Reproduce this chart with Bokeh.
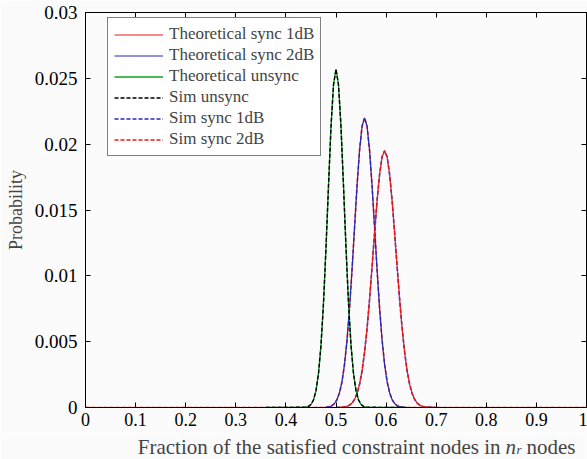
from bokeh.plotting import figure
from bokeh.layouts import column
from bokeh.models import FixedTicker, LinearAxis, Legend, LegendItem, Label, Range1d
from bokeh.embed import file_html
from bokeh.resources import INLINE

# ---- data ----
x_ticks = [0, 0.1, 0.2, 0.3, 0.4, 0.5, 0.6, 0.7, 0.8, 0.9, 1.0]
x_tick_labels = ["0", "0.1", "0.2", "0.3", "0.4", "0.5", "0.6", "0.7", "0.8", "0.9", "1"]
y_ticks = [0, 0.005, 0.01, 0.015, 0.02, 0.025, 0.03]
y_tick_labels = ["0", "0.005", "0.01", "0.015", "0.02", "0.025", "0.03"]

# unsync curve (peak ~0.50)
unsync_x = [0.36, 0.40, 0.440, 0.445, 0.450, 0.455, 0.460, 0.465, 0.470, 0.475, 0.480,
            0.485, 0.490, 0.495, 0.500, 0.505, 0.510, 0.515, 0.520, 0.525, 0.530,
            0.535, 0.540, 0.545, 0.550, 0.555, 0.560, 0.60, 0.64]
unsync_y = [0, 0, 0.00003, 0.00009, 0.00023, 0.00057, 0.00126, 0.00256, 0.0047, 0.0079, 0.0121,
            0.0168, 0.0213, 0.0245, 0.0257, 0.0245, 0.0213, 0.0168, 0.0121, 0.0079, 0.0047,
            0.00256, 0.00126, 0.00057, 0.00023, 0.00009, 0.00003, 0, 0]

# sync 2dB curve (peak ~0.557)
sync2_x = [0.45, 0.477, 0.482, 0.487, 0.492, 0.497, 0.502, 0.507, 0.512, 0.517, 0.522,
           0.527, 0.532, 0.537, 0.542, 0.547, 0.552, 0.557, 0.562, 0.567, 0.572, 0.577,
           0.582, 0.587, 0.592, 0.597, 0.602, 0.607, 0.612, 0.617, 0.622, 0.627, 0.632,
           0.637, 0.70, 0.77]
sync2_y = [0, 0, 0.00003, 0.00006, 0.00014, 0.0003, 0.0006, 0.00112, 0.00197, 0.00327, 0.00512,
           0.00754, 0.01045, 0.01367, 0.01683, 0.01953, 0.02136, 0.0220, 0.02136, 0.01953, 0.01683, 0.01367,
           0.01045, 0.00754, 0.00512, 0.00327, 0.00197, 0.00112, 0.0006, 0.0003, 0.00014, 0.00006, 0.00003,
           0, 0, 0]

# sync 1dB curve (peak ~0.597)
sync1_x = [0.50, 0.517, 0.522, 0.527, 0.532, 0.537, 0.542, 0.547, 0.552, 0.557, 0.562,
           0.567, 0.572, 0.577, 0.582, 0.587, 0.592, 0.597, 0.602, 0.607, 0.612, 0.617,
           0.622, 0.627, 0.632, 0.637, 0.642, 0.647, 0.652, 0.657, 0.662, 0.667, 0.672,
           0.677, 0.70]
sync1_y = [0, 0.00004, 0.00009, 0.00018, 0.00034, 0.00061, 0.00106, 0.00176, 0.00278, 0.00419, 0.0060,
           0.00821, 0.01069, 0.01327, 0.01571, 0.01771, 0.01904, 0.0195, 0.01904, 0.01771, 0.01571, 0.01327,
           0.01069, 0.00821, 0.0060, 0.00419, 0.00278, 0.00176, 0.00106, 0.00061, 0.00034, 0.00018, 0.00009,
           0.00004, 0]

# simulated 2dB series extends over the full axis
sim2_x = [0.0] + sync2_x + [1.0]
sim2_y = [0] + sync2_y + [0]

FONT = "Liberation Serif"
BG = "#fbfbfb"

p = figure(width=587, height=433, output_backend="svg", toolbar_location=None, title=None,
           x_range=Range1d(0, 1), y_range=Range1d(0, 0.03),
           min_border_left=85, min_border_right=1, min_border_top=12, min_border_bottom=26,
           background_fill_color=BG, border_fill_color=BG)
p.grid.visible = False
p.outline_line_color = "black"
p.outline_line_width = 1

for ax in (p.xaxis[0], p.yaxis[0]):
    ax.major_tick_in = 5
    ax.major_tick_out = 0
    ax.minor_tick_in = 0
    ax.minor_tick_out = 0
    ax.major_label_text_font = FONT
    ax.major_label_text_font_size = "19px"
    ax.major_label_text_color = "black"
    ax.axis_line_color = "black"
    ax.major_tick_line_color = "black"

p.xaxis.ticker = FixedTicker(ticks=x_ticks)
p.xaxis.major_label_overrides = {t: l for t, l in zip(x_ticks, x_tick_labels)}
p.xaxis.major_label_standoff = 5
p.xaxis.major_label_text_font_size = "18px"
p.yaxis.ticker = FixedTicker(ticks=y_ticks)
p.yaxis.major_label_overrides = {t: l for t, l in zip(y_ticks, y_tick_labels)}
p.yaxis.major_label_standoff = 8
p.yaxis.axis_label = "Probability"
p.yaxis.axis_label_text_font = FONT
p.yaxis.axis_label_text_font_size = "18px"
p.yaxis.axis_label_text_font_style = "normal"
p.yaxis.axis_label_standoff = 6

top = LinearAxis(ticker=FixedTicker(ticks=x_ticks), major_tick_in=5, major_tick_out=0,
                 minor_tick_in=0, minor_tick_out=0, major_label_text_font_size="1px",
                 major_label_text_color=None, major_label_text_alpha=0,
                 major_label_standoff=0)
right = LinearAxis(ticker=FixedTicker(ticks=y_ticks), major_tick_in=5, major_tick_out=0,
                   minor_tick_in=0, minor_tick_out=0, major_label_text_font_size="1px",
                   major_label_text_color=None, major_label_text_alpha=0,
                   major_label_standoff=0)
p.add_layout(top, "above")
p.add_layout(right, "right")

RED = "#f01818"
BLUE = "#2828b8"
GREEN = "#10a020"

# drawing order chosen so the visible colours match the reference
r_s2 = p.line(sim2_x, sim2_y, line_color=RED, line_width=1.6, line_dash="4 2")
r_s1 = p.line(sync1_x, sync1_y, line_color=BLUE, line_width=1.6, line_dash="4 2")
r_t2 = p.line(sync2_x, sync2_y, line_color=BLUE, line_width=1.2)
r_t1 = p.line(sync1_x, sync1_y, line_color=RED, line_width=1.2)
r_tu = p.line(unsync_x, unsync_y, line_color=GREEN, line_width=1.4)
r_su = p.line(unsync_x, unsync_y, line_color="black", line_width=1.4, line_dash="4 2")

legend = Legend(items=[
    LegendItem(label="Theoretical sync 1dB", renderers=[r_t1]),
    LegendItem(label="Theoretical sync 2dB", renderers=[r_t2]),
    LegendItem(label="Theoretical unsync", renderers=[r_tu]),
    LegendItem(label="Sim unsync", renderers=[r_su]),
    LegendItem(label="Sim sync 1dB", renderers=[r_s1]),
    LegendItem(label="Sim sync 2dB", renderers=[r_s2]),
], location=(22, 251))
legend.label_text_font = FONT
legend.label_text_font_size = "17px"
legend.glyph_width = 49
legend.glyph_height = 19
legend.label_height = 19
legend.spacing = 1
legend.padding = 6
legend.margin = 0
legend.label_standoff = 6
legend.border_line_color = "black"
legend.border_line_width = 1
legend.background_fill_color = "white"
legend.background_fill_alpha = 1
p.add_layout(legend)

# x-axis title (with italic subscripted n_r) on a thin strip below the plot;
# the strip's frame is aligned with the main frame (starts 85px from the left)
q = figure(width=587, height=26, output_backend="svg", toolbar_location=None, title=None,
           x_range=Range1d(0, 501), y_range=Range1d(0, 26),
           x_axis_type=None, y_axis_type=None, min_border=0,
           background_fill_color=BG, border_fill_color=BG)
q.grid.visible = False
q.outline_line_color = None

XL_Y = 13
FS = "21px"
q.add_layout(Label(x=415, y=XL_Y, x_units="screen", y_units="screen",
                   text="Fraction of the satisfied constraint nodes in", text_align="right",
                   text_baseline="alphabetic", text_font=FONT, text_font_size=FS))
q.add_layout(Label(x=420, y=XL_Y, x_units="screen", y_units="screen",
                   text="n", text_align="left", text_font_style="italic",
                   text_baseline="alphabetic", text_font=FONT, text_font_size=FS))
q.add_layout(Label(x=431, y=XL_Y - 3, x_units="screen", y_units="screen",
                   text="r", text_align="left", text_font_style="italic",
                   text_baseline="alphabetic", text_font=FONT, text_font_size="13px"))
q.add_layout(Label(x=441, y=XL_Y, x_units="screen", y_units="screen",
                   text="nodes", text_align="left",
                   text_baseline="alphabetic", text_font=FONT, text_font_size=FS))

layout = column(p, q, spacing=0)
open("out.html", "w").write(file_html(layout, INLINE))
